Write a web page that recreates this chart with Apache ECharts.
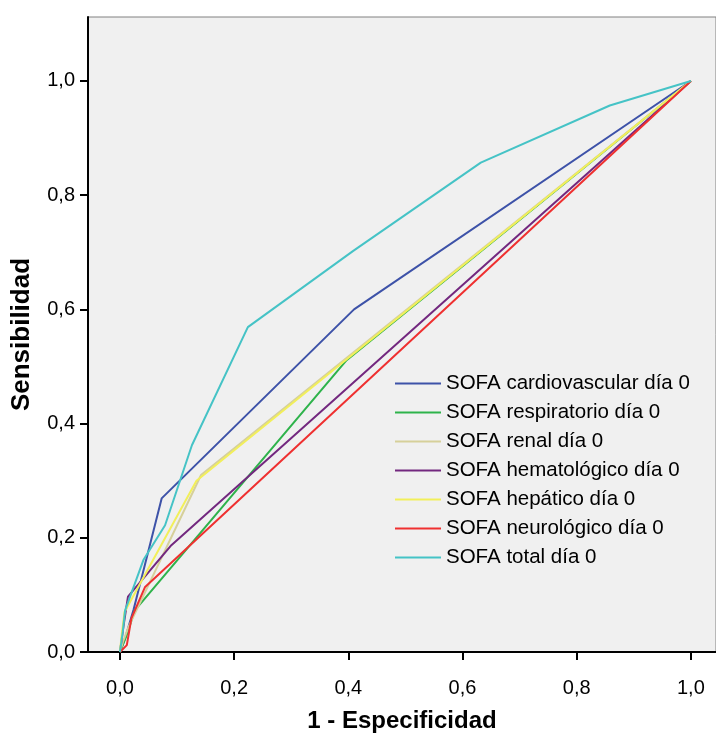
<!DOCTYPE html>
<html><head><meta charset="utf-8">
<script src="https://cdn.jsdelivr.net/npm/echarts@6/dist/echarts.min.js"></script>
<style>html,body{margin:0;padding:0;background:#fff}#c{width:716px;height:735px}</style>
</head><body><div id="c"></div>
<script>
var seriesNames = ['SOFA cardiovascular día 0','SOFA respiratorio día 0','SOFA renal día 0','SOFA hematológico día 0','SOFA hepático día 0','SOFA neurológico día 0','SOFA total día 0'];
var cardio = [[0,0],[0.009,0.024],[0.024,0.075],[0.073,0.269],[0.41,0.60],[1,1]];
var resp = [[0,0],[0.012,0.03],[0.026,0.073],[0.397,0.511],[1,1]];
var renal = [[0,0],[0.006,0.02],[0.015,0.044],[0.142,0.31],[1,1]];
var hema = [[0,0],[0.006,0.044],[0.014,0.097],[0.09,0.187],[1,1]];
var hep = [[0,0],[0.003,0.03],[0.008,0.07],[0.134,0.30],[1,1]];
var neuro = [[0,0],[0.012,0.012],[0.02,0.059],[0.044,0.114],[1,1]];
var total = [[0,0],[0.005,0.036],[0.009,0.073],[0.041,0.161],[0.079,0.222],[0.126,0.362],[0.224,0.569],[0.408,0.702],[0.632,0.857],[0.858,0.957],[1,1]];
var tickValues = [0,0.2,0.4,0.6,0.8,1.0];
var colors = ['#3d52a8','#2eb34b','#d6d09a','#73287f','#f2ef5a','#ef3030','#45c3c6'];
var allData = [cardio,resp,renal,hema,hep,neuro,total];

function fmt(v){ return v.toFixed(1).replace('.', ','); }
var font = 'Liberation Sans, Arial, sans-serif';
var chart = echarts.init(document.getElementById('c'));
chart.setOption({
  animation:false,
  backgroundColor:'#fff',
  color: colors,
  grid:{left:88,right:0,top:17,bottom:83,show:true,backgroundColor:'#f0f0f0',borderColor:'#808080',borderWidth:1,containLabel:false,outerBoundsMode:'none'},
  legend:{
    orient:'vertical', left:395, top:373, padding:0,
    itemWidth:46, itemHeight:14, itemGap:8,
    icon:'path://M0,6 L46,6 L46,8 L0,8 Z',
    textStyle:{fontFamily:font,fontSize:20.5,color:'#000',lineHeight:20},
    data: seriesNames
  },
  xAxis:{
    type:'value', min:-0.056, max:1.044,
    name:'1 - Especificidad', nameLocation:'middle', nameGap:57,
    nameTextStyle:{fontFamily:font,fontSize:24,fontWeight:'bold',color:'#000'},
    axisLine:{show:true,onZero:false,lineStyle:{color:'#000',width:2}},
    axisTick:{show:true,length:8,lineStyle:{color:'#000',width:2},customValues:tickValues},
    axisLabel:{margin:26,fontFamily:font,fontSize:20,color:'#000',formatter:fmt,customValues:tickValues},
    splitLine:{show:false}
  },
  yAxis:{
    type:'value', min:0, max:1.112,
    name:'Sensibilidad', nameLocation:'middle', nameGap:53,
    nameTextStyle:{fontFamily:font,fontSize:26,fontWeight:'bold',color:'#000'},
    axisLine:{show:true,onZero:false,lineStyle:{color:'#000',width:2}},
    axisTick:{show:true,length:8,lineStyle:{color:'#000',width:2},customValues:tickValues},
    axisLabel:{margin:13,fontFamily:font,fontSize:20,color:'#000',formatter:fmt,customValues:tickValues},
    splitLine:{show:false}
  },
  series: seriesNames.map(function(n,i){
    return {name:n,type:'line',data:allData[i],symbol:'none',lineStyle:{width:2,color:colors[i]},itemStyle:{color:colors[i]}};
  })
});
</script></body></html>
